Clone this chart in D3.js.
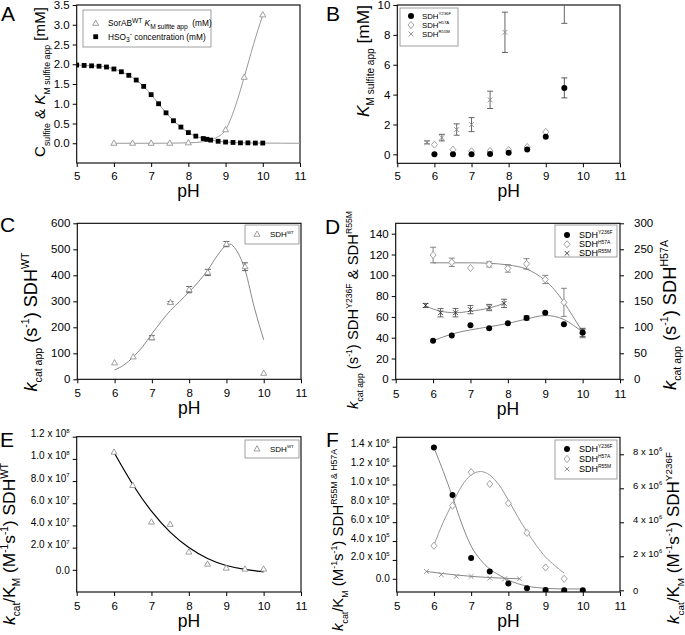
<!DOCTYPE html>
<html><head><meta charset="utf-8">
<script src="https://cdn.jsdelivr.net/npm/d3@7"></script>
<style>body{margin:0;background:#fff} text{white-space:pre}</style>
</head><body><svg id="c" width="685" height="635"></svg>
<script>
// ---------------- DATA ----------------
const phTicks = [5, 6, 7, 8, 9, 10, 11];

// Panel A
const aKmPH = [6, 6.5, 7, 7.5, 8, 9, 9.5, 10];
const aKmVal = [0, 0, 0, 0, 0.01, 0.34, 1.67, 3.25];
const aKmFitPH = [6, 7, 8, 8.4, 8.7, 9, 9.25, 9.5, 9.75, 10];
const aKmFitVal = [0, 0, 0.01, 0.04, 0.12, 0.34, 0.9, 1.67, 2.5, 3.25];
const aHsoPH = [5, 5.2, 5.4, 5.6, 5.8, 6, 6.2, 6.4, 6.6, 6.8, 7, 7.2, 7.4, 7.6, 7.8, 8, 8.2, 8.4, 8.5, 8.6, 8.8, 9, 9.2, 9.4, 9.6, 9.8, 10];
const aHsoVal = [1.98, 1.97, 1.96, 1.95, 1.93, 1.88, 1.81, 1.72, 1.60, 1.44, 1.23, 1.00, 0.77, 0.57, 0.41, 0.27, 0.18, 0.12, 0.10, 0.08, 0.05, 0.03, 0.02, 0.01, 0.01, 0.005, 0.005];
const aHsoTailPH = [10.5, 11];
const aHsoTailVal = [0.002, 0];
const aYTicks = [0, 0.5, 1, 1.5, 2, 2.5, 3, 3.5];
const aYLabels = ["0.0", "0.5", "1.0", "1.5", "2.0", "2.5", "3.0", "3.5"];

// Panel B
const bY236FPH = [6, 6.5, 7, 7.5, 8, 8.5, 9, 9.5];
const bY236FVal = [0, 0, 0, 0.02, 0.1, 0.33, 1.18, 4.45];
const bY236FErr = [0, 0, 0, 0, 0, 0, 0, 0.67];
const bH57APH = [6, 6.5, 7, 7.5, 8, 8.5, 9];
const bH57AVal = [0.65, 0.31, 0.2, 0.22, 0.29, 0.49, 1.5];
const bR55MPH = [5.8, 6.2, 6.6, 7.0, 7.5, 7.9, 9.5];
const bR55MVal = [0.8, 1.12, 1.66, 1.99, 3.65, 8.17, 10.2];
const bR55MErr = [0.1, 0.22, 0.38, 0.47, 0.58, 1.35, 1.43];
const bYTicks = [0, 2, 4, 6, 8, 10];

// Panel C
const cPH = [6, 6.5, 7, 7.5, 8, 8.5, 9, 9.5, 10];
const cVal = [63, 86, 160, 295, 345, 411, 520, 433, 23];
const cErr = [0, 0, 8, 4, 12, 12, 10, 15, 0];
const cFitPH = [6, 6.25, 6.5, 6.75, 7, 7.25, 7.5, 7.75, 8, 8.25, 8.5, 8.75, 9, 9.1, 9.25, 9.5, 9.75, 10];
const cFitVal = [36, 55, 86, 125, 175, 222, 265, 300, 336, 375, 420, 475, 516, 520, 500, 420, 275, 152];
const cYTicks = [0, 100, 200, 300, 400, 500, 600];

// Panel D
const dY236FPH = [6, 6.5, 7, 7.5, 8, 8.5, 9, 9.5, 10];
const dY236FVal = [37, 42, 52, 49, 54, 59, 64, 53, 45];
const dY236FErr = [0, 0, 0, 0, 0, 2, 0, 0, 4];
const dY236FFitPH = [6, 6.5, 7, 7.5, 8, 8.5, 9, 9.25, 9.5, 9.75, 10];
const dY236FFitVal = [37, 43.5, 47.5, 50.5, 53.7, 58, 61.3, 60.5, 57.5, 52, 45.4];
const dR55MPH = [5.8, 6.2, 6.6, 7.0, 7.5, 7.9];
const dR55MVal = [71, 64, 64, 67, 69, 73];
const dR55MErr = [2, 4, 4, 4, 3, 4];
const dR55MFitVal = [70.5, 65.5, 64, 65.5, 68.5, 73];
const dH57APH = [6, 6.5, 7, 7.5, 8, 8.5, 9, 9.5, 10];
const dH57AVal = [239, 225, 214, 221, 213, 222, 192, 148, 88];
const dH57AErr = [15, 8, 0, 5, 7, 10, 8, 27, 8];
const dH57AFitPH = [6, 6.5, 7, 7.5, 8, 8.5, 8.75, 9, 9.25, 9.5, 9.75, 10];
const dH57AFitVal = [224, 224, 224, 223, 220, 212, 203, 190, 172, 148, 120, 91];
const dLeftTicks = [0, 20, 40, 60, 80, 100, 120, 140];
const dRightTicks = [0, 50, 100, 150, 200, 250, 300];

// Panel E
const ePH = [6, 6.5, 7, 7.5, 8, 8.5, 9, 9.5, 10];
const eVal = [1.06e8, 7.6e7, 4.3e7, 4.1e7, 1.6e7, 5.1e6, 1.5e6, 6e5, 6e5];
const eFitVal = [1.057e8, 7.6e7, 5.2e7, 3.3e7, 1.95e7, 9.6e6, 3.4e6, 3e5, -1.8e6];
const eYTicks = [0, 2e7, 4e7, 6e7, 8e7, 1e8, 1.2e8];
const eYLabels = ["0.0", "2.0 x 10^7", "4.0 x 10^7", "6.0 x 10^7", "8.0 x 10^7", "1.0 x 10^8", "1.2 x 10^8"];

// Panel F
const fY236FPH = [6, 6.5, 7, 7.5, 8, 8.5, 9, 9.5, 10];
const fY236FVal = [8.4e6, 5.6e6, 1.9e6, 1.1e6, 4e5, 1.2e5, 2e4, 0, 0];
const fY236FFitPH = [6, 6.25, 6.5, 6.75, 7, 7.25, 7.5, 7.75, 8, 8.5, 9, 9.5, 10];
const fY236FFitVal = [8.4e6, 7.0e6, 5.5e6, 3.9e6, 2.6e6, 1.8e6, 1.25e6, 9e5, 6e5, 2.5e5, 1.2e5, 8e4, 8e4];
const fH57APH = [6, 6.5, 7, 7.5, 8, 8.5, 9, 9.5];
const fH57AVal = [3.5e5, 7.75e5, 1.13e6, 1.005e6, 8.0e5, 4.87e5, 1.2e5, 0];
const fH57AFitPH = [6, 6.25, 6.5, 6.75, 7, 7.25, 7.5, 7.75, 8, 8.25, 8.5, 8.75, 9, 9.25, 9.5];
const fH57AFitVal = [3.55e5, 6.0e5, 8.0e5, 9.85e5, 1.10e6, 1.137e6, 1.10e6, 9.95e5, 8.35e5, 6.6e5, 5.0e5, 3.55e5, 2.3e5, 1.4e5, 6e4];
const fR55MPH = [5.8, 6.2, 6.6, 7.0, 7.5, 7.9, 8.3];
const fR55MVal = [7.8e4, 4.3e4, 2.5e4, 2.5e4, 7e3, 0, 0];
const fR55MFitPH = [5.8, 6.6, 7.5, 8.3];
const fR55MFitVal = [7.8e4, 4e4, 1.3e4, 0];
const fLeftTicks = [0, 2e5, 4e5, 6e5, 8e5, 1e6, 1.2e6, 1.4e6];
const fLeftLabels = ["0.0", "2.0 x 10^5", "4.0 x 10^5", "6.0 x 10^5", "8.0 x 10^5", "1.0 x 10^6", "1.2 x 10^6", "1.4 x 10^6"];
const fRightTicks = [0, 2e6, 4e6, 6e6, 8e6];
const fRightLabels = ["0", "2 x 10^6", "4 x 10^6", "6 x 10^6", "8 x 10^6"];

// ---------------- DRAWING ----------------
const FONT = "'Liberation Sans', Arial, Helvetica, sans-serif";
const svg = d3.select('#c').attr('font-family', FONT);
svg.append('rect').attr('width', 685).attr('height', 635).attr('fill', '#fff');
const zip = (a, b) => a.map((v, i) => [v, b[i]]);
let clipId = 0;

// rich text: parts = [[text, style]], style: n, i, b(sub), p(sup)
function rich(sel, parts, fs, ratio = 0.58) {
  let off = 0;
  parts.forEach(([t, s]) => {
    const isSub = s.includes('b'), isSup = s.includes('p');
    const small = isSub || isSup;
    const target = isSub ? fs * 0.3 : isSup ? -fs * 0.42 : 0;
    const ts = sel.append('tspan').text(t)
      .attr('font-size', small ? fs * ratio : fs)
      .attr('dy', (target - off).toFixed(2));
    if (s.includes('i')) ts.attr('font-style', 'italic');
    off = target;
  });
}
function parseSup(str) {
  const k = str.indexOf('^');
  return k < 0 ? [[str, 'n']] : [[str.slice(0, k), 'n'], [str.slice(k + 1), 'p']];
}

function yLabel(cx, cy, parts, target, fs = 16, ratio = 0.58) {
  const g = svg.append('g').attr('transform', `translate(${cx},${cy}) rotate(-90)`);
  const t = g.append('text').attr('text-anchor', 'middle').attr('y', fs * 0.36).attr('fill', '#000');
  rich(t, parts, fs, ratio);
  const len = t.node().getComputedTextLength();
  g.attr('transform', `translate(${cx},${cy}) rotate(-90) scale(${target / len})`);
}

function panel(p) {
  const x = d3.scaleLinear().domain([5, 11]).range([p.x0, p.x1]);
  const y = d3.scaleLinear().domain(p.yDomain).range([p.y1, p.y0]);
  const gx = svg.append('g').attr('transform', `translate(0,${p.y1})`)
    .call(d3.axisBottom(x).tickValues(phTicks).tickSize(4).tickPadding(p.xPad).tickFormat(d3.format('d')));
  gx.attr('font-family', FONT).attr('font-size', 11.5);
  gx.select('.domain').remove();
  const fmtL = d => p.yLabels[p.yTicks.indexOf(d)];
  const gy = svg.append('g').attr('transform', `translate(${p.x0},0)`)
    .call(d3.axisLeft(y).tickValues(p.yTicks).tickSize(4).tickPadding(3).tickFormat(fmtL));
  gy.attr('font-family', FONT).attr('font-size', p.yFs || 11.5);
  gy.select('.domain').remove();
  gy.selectAll('.tick text').each(function (d) {
    const s = fmtL(d);
    if (s.includes('^')) { const t = d3.select(this).text(null); rich(t, parseSup(s), p.yFs || 11.5, 0.6); }
  });
  let y2 = null;
  if (p.y2Domain) {
    y2 = d3.scaleLinear().domain(p.y2Domain).range([p.y1, p.y0]);
    const fmtR = d => p.y2Labels[p.y2Ticks.indexOf(d)];
    const gr = svg.append('g').attr('transform', `translate(${p.x1},0)`)
      .call(d3.axisRight(y2).tickValues(p.y2Ticks).tickSize(4).tickPadding(p.y2Pad || 10).tickFormat(fmtR));
    gr.attr('font-family', FONT).attr('font-size', p.y2Fs || 11.5);
    gr.select('.domain').remove();
    gr.selectAll('.tick text').each(function (d) {
      const s = fmtR(d);
      if (s.includes('^')) { const t = d3.select(this).text(null); rich(t, parseSup(s), p.y2Fs || 11.5, 0.6); }
    });
  }
  svg.append('rect').attr('x', p.x0).attr('y', p.y0).attr('width', p.x1 - p.x0).attr('height', p.y1 - p.y0)
    .attr('fill', 'none').attr('stroke', '#000').attr('stroke-width', 1.1);
  const id = 'clip' + (clipId++);
  svg.append('clipPath').attr('id', id).append('rect')
    .attr('x', p.x0).attr('y', p.y0).attr('width', p.x1 - p.x0).attr('height', p.y1 - p.y0);
  const g = svg.append('g').attr('clip-path', `url(#${id})`);
  svg.append('text').attr('x', (p.x0 + p.x1) / 2).attr('y', p.pHy).attr('text-anchor', 'middle')
    .attr('font-size', 17.5).text('pH');
  svg.append('text').attr('x', p.lx).attr('y', p.ly).attr('font-size', 21).text(p.letter);
  return { x, y, y2, g };
}

function mark(g, type, cx, cy, color) {
  if (type === 'tri') {
    g.append('path').attr('d', `M${cx},${cy - 3.3}L${cx + 3},${cy + 2}L${cx - 3},${cy + 2}Z`)
      .attr('fill', '#fff').attr('stroke', color || '#888').attr('stroke-width', 0.8);
  } else if (type === 'sq') {
    g.append('rect').attr('x', cx - 2.4).attr('y', cy - 2.4).attr('width', 4.8).attr('height', 4.8).attr('fill', '#000');
  } else if (type === 'dot') {
    g.append('circle').attr('cx', cx).attr('cy', cy).attr('r', 3).attr('fill', '#000');
  } else if (type === 'dia') {
    g.append('path').attr('d', `M${cx},${cy - 3.6}L${cx + 3},${cy}L${cx},${cy + 3.6}L${cx - 3},${cy}Z`)
      .attr('fill', '#fff').attr('stroke', color || '#999').attr('stroke-width', 0.9);
  } else if (type === 'x') {
    const c = color || '#888';
    g.append('path').attr('d', `M${cx - 2.4},${cy - 2.4}L${cx + 2.4},${cy + 2.4}M${cx - 2.4},${cy + 2.4}L${cx + 2.4},${cy - 2.4}`)
      .attr('stroke', c).attr('stroke-width', 0.9);
  }
}
function errBar(g, cx, ylo, yhi, color) {
  const c = color || '#555';
  g.append('path').attr('d', `M${cx},${ylo}L${cx},${yhi}M${cx - 3},${ylo}L${cx + 3},${ylo}M${cx - 3},${yhi}L${cx + 3},${yhi}`)
    .attr('stroke', c).attr('stroke-width', 0.9).attr('fill', 'none');
}
function series(P, ph, val, type, opts = {}) {
  const ys = opts.right ? P.y2 : P.y;
  ph.forEach((ph_, i) => {
    const e = opts.err ? opts.err[i] : 0;
    if (e) errBar(P.g, P.x(ph_), ys(val[i] - e), ys(val[i] + e), opts.errColor);
  });
  ph.forEach((ph_, i) => mark(P.g, type, P.x(ph_), ys(val[i]), opts.color));
}
function fitLine(P, ph, val, opts = {}) {
  const ys = opts.right ? P.y2 : P.y;
  const line = d3.line().x(d => P.x(d[0])).y(d => ys(d[1])).curve(opts.curve || d3.curveMonotoneX);
  P.g.append('path').attr('d', line(zip(ph, val))).attr('fill', 'none')
    .attr('stroke', opts.color || '#888').attr('stroke-width', opts.w || 1);
}
function legend(box, entries, fs, ratio) {
  svg.append('rect').attr('x', box[0]).attr('y', box[1]).attr('width', box[2] - box[0]).attr('height', box[3] - box[1])
    .attr('fill', '#fff').attr('stroke', '#888').attr('stroke-width', 0.8);
  entries.forEach(e => {
    mark(svg, e.type, e.mx, e.y, e.color);
    const t = svg.append('text').attr('x', e.tx).attr('y', e.y + fs * 0.35).attr('font-size', fs);
    rich(t, e.parts, fs, ratio);
  });
}

// ----- Panel A -----
const A = panel({ x0: 76.7, x1: 300, y0: 5, y1: 163, yDomain: [-0.5, 3.5], yTicks: aYTicks, yLabels: aYLabels,
  xPad: 4.8, pHy: 197, letter: 'A', lx: 1, ly: 21 });
fitLine(A, aHsoPH.concat(aHsoTailPH), aHsoVal.concat(aHsoTailVal), { color: '#999' });
fitLine(A, aKmFitPH, aKmFitVal, { color: '#999' });
series(A, aHsoPH, aHsoVal, 'sq');
series(A, aKmPH, aKmVal, 'tri');
legend([83, 10, 211, 47], [
  { type: 'tri', mx: 95.7, tx: 108, y: 23.3, parts: [['SorAB', 'n'], ['WT', 'p'], [' K', 'i'], ['M sulfite app', 'b'], ['  (mM)', 'n']] },
  { type: 'sq', mx: 95.7, tx: 108, y: 36.7, parts: [['HSO', 'n'], ['3', 'b'], ['-', 'p'], [' concentration (mM)', 'n']] }
], 8.3, 0.8);
yLabel(40, 82, [['C', 'n'], ['sulfite', 'b'], [' & ', 'n'], ['K', 'i'], ['M sulfite app', 'b'], [' [mM]', 'n']], 150);

// ----- Panel B -----
const B = panel({ x0: 397.3, x1: 620, y0: 5, y1: 163.3, yDomain: [-0.6, 10], yTicks: bYTicks, yLabels: bYTicks.map(String),
  xPad: 5, pHy: 197, letter: 'B', lx: 326, ly: 21 });
series(B, bR55MPH, bR55MVal, 'x', { err: bR55MErr, errColor: '#555' });
series(B, bH57APH, bH57AVal, 'dia');
series(B, bY236FPH, bY236FVal, 'dot', { err: bY236FErr, errColor: '#444' });
legend([400, 8, 458, 46], [
  { type: 'dot', mx: 411, tx: 422, y: 16, parts: [['SDH', 'n'], ['Y236F', 'p']] },
  { type: 'dia', mx: 411, tx: 422, y: 25, parts: [['SDH', 'n'], ['H57A', 'p']] },
  { type: 'x', mx: 411, tx: 422, y: 34, parts: [['SDH', 'n'], ['R55M', 'p']] }
], 7.8, 0.55);
yLabel(363, 61, [['K', 'i'], ['M sulfite app', 'b'], [' [mM]', 'n']], 112);

// ----- Panel C -----
const C = panel({ x0: 77.3, x1: 301, y0: 223.3, y1: 379.3, yDomain: [0, 600], yTicks: cYTicks, yLabels: cYTicks.map(String),
  xPad: 5.5, pHy: 414, letter: 'C', lx: 0, ly: 232 });
fitLine(C, cFitPH, cFitVal, { color: '#888' });
series(C, cPH, cVal, 'tri', { err: cErr, errColor: '#555' });
legend([245, 225, 299, 244], [
  { type: 'tri', mx: 257, tx: 270, y: 234.3, parts: [['SDH', 'n'], ['WT', 'p']] }
], 8, 0.55);
yLabel(30, 322, [['k', 'i'], ['cat app', 'b'], [' (s', 'n'], ['-1', 'p'], [') SDH', 'n'], ['WT', 'p']], 139);

// ----- Panel D -----
const D = panel({ x0: 395.7, x1: 620, y0: 223.3, y1: 379.3, yDomain: [0, 150], yTicks: dLeftTicks, yLabels: dLeftTicks.map(String),
  y2Domain: [0, 300], y2Ticks: dRightTicks, y2Labels: dRightTicks.map(String),
  xPad: 6.5, pHy: 415, letter: 'D', lx: 325, ly: 234 });
fitLine(D, dH57AFitPH, dH57AFitVal, { right: true, color: '#888' });
fitLine(D, dY236FFitPH, dY236FFitVal, { color: '#888' });
fitLine(D, dR55MPH, dR55MFitVal, { color: '#888' });
series(D, dH57APH, dH57AVal, 'dia', { right: true, err: dH57AErr, errColor: '#777' });
series(D, dR55MPH, dR55MVal, 'x', { err: dR55MErr, errColor: '#555', color: '#333' });
series(D, dY236FPH, dY236FVal, 'dot', { err: dY236FErr, errColor: '#444' });
legend([555, 225, 617, 257], [
  { type: 'dot', mx: 567, tx: 579, y: 235, parts: [['SDH', 'n'], ['Y236F', 'p']] },
  { type: 'dia', mx: 567, tx: 579, y: 244.3, parts: [['SDH', 'n'], ['H57A', 'p']] },
  { type: 'x', mx: 567, tx: 579, y: 253.3, color: '#333', parts: [['SDH', 'n'], ['R55M', 'p']] }
], 9, 0.55);
yLabel(353, 310, [['k', 'i'], ['cat app', 'b'], [' (s', 'n'], ['-1', 'p'], [') SDH', 'n'], ['Y236F', 'p'], [' & SDH', 'n'], ['R55M', 'p']], 198);
yLabel(669, 315, [['k', 'i'], ['cat app', 'b'], [' (s', 'n'], ['-1', 'p'], [') SDH', 'n'], ['H57A', 'p']], 150);

// ----- Panel E -----
const E = panel({ x0: 76.7, x1: 301, y0: 436.7, y1: 592, yDomain: [-2e7, 1.2e8], yTicks: eYTicks, yLabels: eYLabels, yFs: 10,
  xPad: 6, pHy: 627, letter: 'E', lx: 0, ly: 447 });
fitLine(E, ePH, eFitVal, { color: '#000', w: 1.2, curve: d3.curveBasis });
series(E, ePH, eVal, 'tri');
legend([245, 440, 299, 458], [
  { type: 'tri', mx: 257, tx: 270, y: 449, parts: [['SDH', 'n'], ['WT', 'p']] }
], 8, 0.55);
yLabel(9, 544, [['k', 'i'], ['cat', 'b'], ['/K', 'n'], ['M', 'b'], [' (M', 'n'], ['-1', 'p'], ['s', 'n'], ['-1', 'p'], [') SDH', 'n'], ['WT', 'p']], 162);

// ----- Panel F -----
const F = panel({ x0: 396.7, x1: 620, y0: 437.3, y1: 592, yDomain: [-1.4e5, 1.5e6], yTicks: fLeftTicks, yLabels: fLeftLabels, yFs: 10,
  y2Domain: [-1e5, 9e6], y2Ticks: fRightTicks, y2Labels: fRightLabels, y2Fs: 9.5, y2Pad: 9,
  xPad: 6, pHy: 627, letter: 'F', lx: 326, ly: 447 });
fitLine(F, fY236FFitPH, fY236FFitVal, { right: true, color: '#888' });
fitLine(F, fH57AFitPH, fH57AFitVal, { color: '#999' });
fitLine(F, fR55MFitPH, fR55MFitVal, { color: '#888' });
series(F, fR55MPH, fR55MVal, 'x');
series(F, fH57APH, fH57AVal, 'dia');
series(F, fY236FPH, fY236FVal, 'dot', { right: true });
legend([555, 440, 617, 479], [
  { type: 'dot', mx: 567, tx: 579, y: 449, parts: [['SDH', 'n'], ['Y236F', 'p']] },
  { type: 'dia', mx: 567, tx: 579, y: 459, parts: [['SDH', 'n'], ['H57A', 'p']] },
  { type: 'x', mx: 567, tx: 579, y: 469, parts: [['SDH', 'n'], ['R55M', 'p']] }
], 9, 0.55);
yLabel(338, 540, [['k', 'i'], ['cat', 'b'], ['/K', 'n'], ['M', 'b'], [' (M', 'n'], ['-1', 'p'], ['s', 'n'], ['-1', 'p'], [') SDH', 'n'], ['R55M & H57A', 'p']], 182);
yLabel(673, 538, [['k', 'i'], ['cat', 'b'], ['/K', 'n'], ['M', 'b'], [' (M', 'n'], ['-1', 'p'], ['s', 'n'], ['-1', 'p'], [') SDH', 'n'], ['Y236F', 'p']], 172);
</script></body></html>
